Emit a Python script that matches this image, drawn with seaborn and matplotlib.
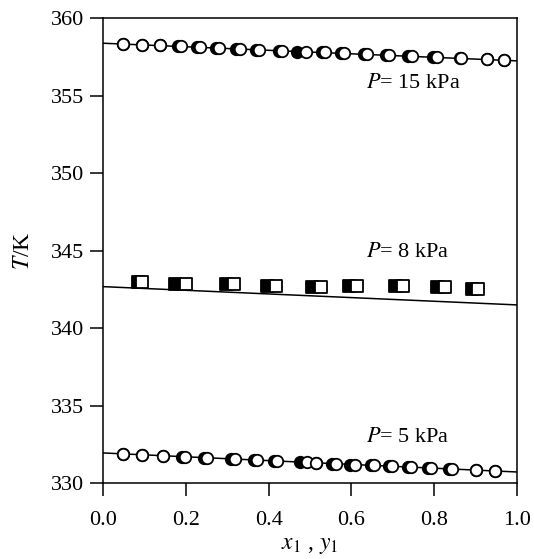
import matplotlib
matplotlib.use("Agg")
import matplotlib.pyplot as plt
import seaborn as sns
import pandas as pd

# ---- data ----
x_calc = [0.0, 0.5, 1.0]
T15_calc = [358.40, 357.83, 357.26]
T8_calc = [342.68, 342.09, 341.50]
T5_calc = [331.94, 331.32, 330.71]

x15_liq = [0.049, 0.094, 0.138, 0.180, 0.226, 0.273, 0.322, 0.370, 0.424, 0.469,
           0.530, 0.574, 0.630, 0.683, 0.738, 0.798, 0.862, 0.927, 0.969]
x15_vap = [0.049, 0.094, 0.138, 0.188, 0.234, 0.281, 0.331, 0.378, 0.432, 0.490,
           0.536, 0.582, 0.637, 0.691, 0.746, 0.806, 0.864, 0.927, 0.969]
T15 = [358.36, 358.31, 358.26, 358.20, 358.14, 358.09, 358.03, 357.98, 357.92, 357.86,
       357.81, 357.76, 357.70, 357.64, 357.58, 357.51, 357.45, 357.37, 357.31]

x8_liq = [0.085, 0.174, 0.297, 0.395, 0.504, 0.595, 0.705, 0.808, 0.892]
x8_vap = [0.093, 0.200, 0.316, 0.419, 0.527, 0.613, 0.725, 0.826, 0.907]
T8 = [342.97, 342.86, 342.86, 342.75, 342.64, 342.75, 342.75, 342.64, 342.53]

x5_liq = [0.049, 0.093, 0.146, 0.190, 0.244, 0.308, 0.364, 0.412, 0.476, 0.514,
          0.553, 0.597, 0.647, 0.691, 0.736, 0.784, 0.835, 0.901, 0.947]
x5_vap = [0.049, 0.093, 0.146, 0.198, 0.252, 0.318, 0.373, 0.421, 0.492, 0.514,
          0.562, 0.609, 0.655, 0.699, 0.744, 0.792, 0.843, 0.901, 0.947]
T5 = [331.88, 331.83, 331.76, 331.70, 331.63, 331.55, 331.48, 331.42, 331.34, 331.31,
      331.25, 331.19, 331.14, 331.08, 331.02, 330.97, 330.91, 330.83, 330.78]

labels = ["$P$= 15 kPa", "$P$= 8 kPa", "$P$= 5 kPa"]
label_T = [355.8, 344.9, 332.95]
label_x = 0.635

xticks = [0.0, 0.2, 0.4, 0.6, 0.8, 1.0]
yticks = [330, 335, 340, 345, 350, 355, 360]

# ---- style ----
sns.set_style("ticks")
plt.rcParams["font.family"] = ["Liberation Serif", "DejaVu Serif"]
plt.rcParams["mathtext.fontset"] = "stix"
plt.rcParams["font.size"] = 16
for k in ("text.color", "axes.labelcolor", "xtick.color", "ytick.color",
          "xtick.labelcolor", "ytick.labelcolor", "axes.edgecolor"):
    plt.rcParams[k] = "black"

fig = plt.figure(figsize=(5.34, 5.59), dpi=100)
ax = fig.add_axes([0.193, 0.136, 0.775, 0.831])

for T_calc in (T15_calc, T8_calc, T5_calc):
    sns.lineplot(x=x_calc, y=T_calc, ax=ax, color="black", linewidth=1.1)

circ = dict(s=68, linewidth=1.3, edgecolor="black", zorder=3)
sqr = dict(s=70, linewidth=1.3, edgecolor="black", zorder=3, marker="s")

for xl, xv, T in ((x15_liq, x15_vap, T15), (x5_liq, x5_vap, T5)):
    sns.scatterplot(x=xl, y=T, ax=ax, color="black", marker="o", **circ)
    sns.scatterplot(x=xv, y=T, ax=ax, color="white", marker="o", **circ)

sns.scatterplot(x=x8_liq, y=T8, ax=ax, color="black", **sqr)
sns.scatterplot(x=x8_vap, y=T8, ax=ax, color="white", **sqr)

for lab, ty in zip(labels, label_T):
    ax.text(label_x, ty, lab, fontsize=16, va="center", ha="left")

ax.set_xlim(0, 1)
ax.set_ylim(330, 360)
ax.set_xticks(xticks)
ax.set_xticklabels([f"{v:.1f}" for v in xticks])
ax.set_yticks(yticks)
ax.tick_params(direction="out", length=9.5, width=1.1, labelsize=16, pad=4)
ax.tick_params(axis="x", pad=11)
for s in ax.spines.values():
    s.set_visible(True)
    s.set_linewidth(1.1)
ax.set_xlabel("$x_1$ , $y_1$", fontsize=17, labelpad=3)
ax.set_ylabel("$T$/K", fontsize=17, labelpad=12)

fig.savefig("out.png", dpi=100)
